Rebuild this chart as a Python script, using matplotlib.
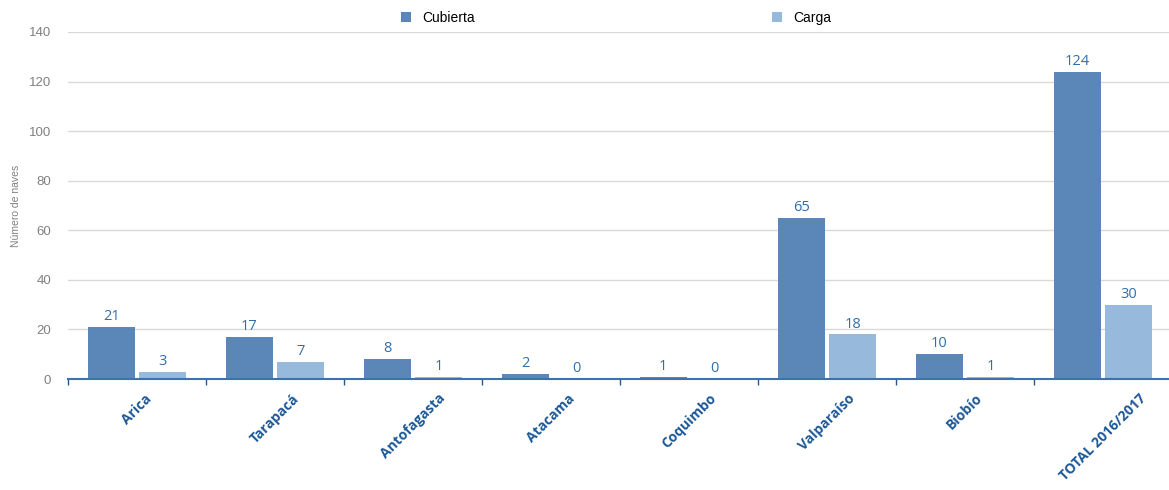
import matplotlib.pyplot as plt
import numpy as np

# datos
regiones = ['Arica', 'Tarapacá', 'Antofagasta', 'Atacama', 'Coquimbo',
            'Valparaíso', 'Biobío', 'TOTAL 2016/2017']
cubierta = [21, 17, 8, 2, 1, 65, 10, 124]
carga = [3, 7, 1, 0, 0, 18, 1, 30]

color_cub = '#5b86b8'
color_car = '#96b9dc'
color_lbl = '#2f6faa'
color_cat = '#1c5896'

fig = plt.figure(figsize=(11.69, 4.9), dpi=100)
ax = fig.add_axes([68 / 1169, 1 - 379 / 490, 1104 / 1169, (379 - 32) / 490])

x = np.arange(len(regiones))
w = 0.342
off = 0.186

b1 = ax.bar(x - off, cubierta, w, color=color_cub, label='Cubierta', zorder=3)
b2 = ax.bar(x + off, carga, w, color=color_car, label='Carga', zorder=3)

# etiquetas de valores
for barras, vals in [(b1, cubierta), (b2, carga)]:
    for b, v in zip(barras, vals):
        ax.annotate(str(v), (b.get_x() + b.get_width() / 2, v),
                    xytext=(0, 2), textcoords='offset points',
                    ha='center', va='bottom', fontsize=10.5,
                    color=color_lbl, family='Open Sans')

ax.set_xlim(-0.5, len(regiones) - 0.5)
ax.set_ylim(0, 140)
ax.set_yticks(range(0, 141, 20))
ax.yaxis.grid(True, color='#d9d9d9', linewidth=1, zorder=0)
ax.tick_params(axis='y', length=0, pad=12, labelsize=9.5, labelcolor='#808080')
for t in ax.get_yticklabels():
    t.set_family('Liberation Sans')

ax.set_xticks(x)
ax.set_xticklabels(regiones, rotation=45, ha='center', va='top',
                   fontsize=10, fontweight='bold', color=color_cat,
                   family='Open Sans')
ax.tick_params(axis='x', which='major', length=0, pad=9)
ax.set_xticks(np.arange(len(regiones) + 1) - 0.5, minor=True)
ax.tick_params(axis='x', which='minor', length=4, color=color_cat, width=1)

for s in ['top', 'right', 'left']:
    ax.spines[s].set_visible(False)
ax.spines['bottom'].set_color('#3f72aa')
ax.spines['bottom'].set_linewidth(1.5)
ax.spines['bottom'].set_zorder(4)

ax.set_ylabel('Número de naves', fontsize=7.5, color='#808080',
              family='Liberation Sans')
ax.yaxis.set_label_coords(-0.043, 0.5)

fig.legend(handles=[b1, b2], loc='center', bbox_to_anchor=(0.527, 0.963),
           ncol=2, frameon=False, handlelength=0.75,
           handleheight=0.75, handletextpad=0.8, columnspacing=21.4,
           prop={'family': 'Liberation Sans', 'size': 10})

plt.savefig('out.png', dpi=100)
